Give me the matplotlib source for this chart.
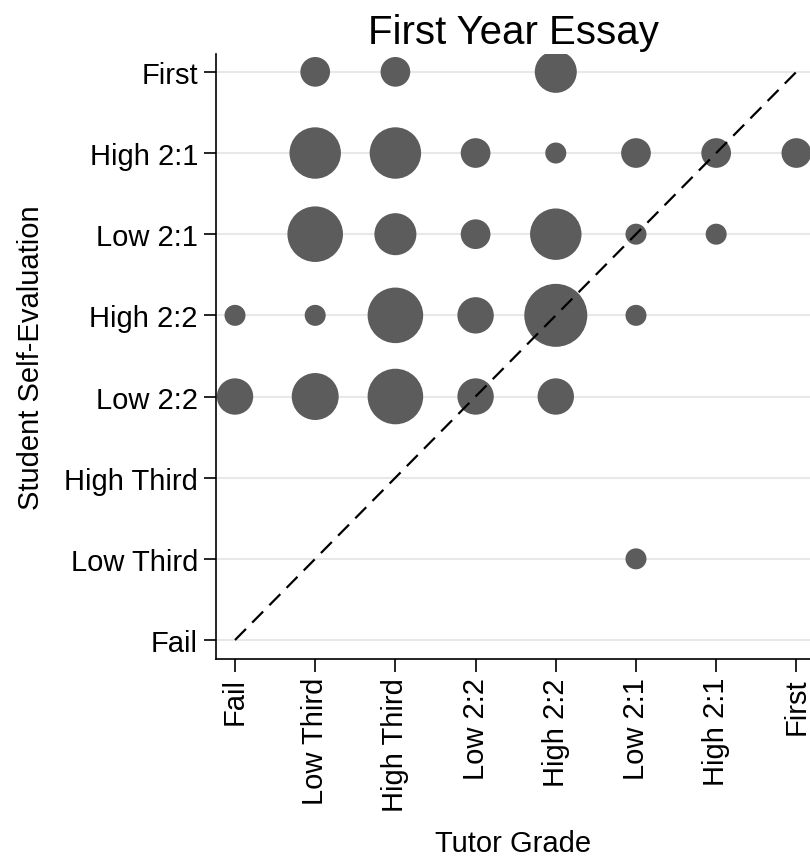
import numpy as np
import matplotlib.pyplot as plt

plt.rcParams['font.family'] = ['Liberation Sans', 'DejaVu Sans']

grades = ["Fail", "Low Third", "High Third", "Low 2:2", "High 2:2",
          "Low 2:1", "High 2:1", "First"]

# counts[self_eval][tutor_grade]
counts = np.array([
    # Fail LT  HT  L22 H22 L21 H21 First   <- tutor grade
    [0,   0,  0,  0,  0,  0,  0,  0],   # Fail
    [0,   0,  0,  0,  0,  1,  0,  0],   # Low Third
    [0,   0,  0,  0,  0,  0,  0,  0],   # High Third
    [3,   5,  7,  3,  3,  0,  0,  0],   # Low 2:2
    [1,   1,  7,  3,  9,  1,  0,  0],   # High 2:2
    [0,   7,  4,  2,  6,  1,  1,  0],   # Low 2:1
    [0,   6,  6,  2,  1,  2,  2,  2],   # High 2:1
    [0,   2,  2,  0,  4,  0,  0,  0],   # First
])

ys, xs = np.nonzero(counts)
n = counts[ys, xs]

fig = plt.figure(figsize=(8.1, 8.62), dpi=100)
ax = fig.add_axes([216/810, 1 - 660/862, 1 - 216/810, (660 - 55)/862])

# --- 横グリッド ---
for k in range(len(grades)):
    ax.axhline(k, color='#e8e8e8', lw=1.5, zorder=0)

# --- 対角線 ---
ax.plot([0, 7], [0, 7], color='black', ls=(0, (7, 4)), lw=1.6, zorder=3)

# --- バブル（面積 ∝ 件数） ---
base = (21 * 0.72) ** 2
ax.scatter(xs, ys, s=base * n, color='#5c5c5c', edgecolors='none', zorder=2)

ax.set_xlim(-0.237, 7.17)
ax.set_ylim(-0.234, 7.22)

ax.set_xticks(range(len(grades)))
ax.set_xticklabels(grades, rotation=90, fontsize=21)
ax.set_yticks(range(len(grades)))
ax.set_yticklabels(grades, fontsize=21)
ax.tick_params(direction='out', length=9, width=1.2, pad=4)

for s in ['top', 'right']:
    ax.spines[s].set_visible(False)
for s in ['left', 'bottom']:
    ax.spines[s].set_linewidth(1.2)

ax.set_xlabel("Tutor Grade", fontsize=21, labelpad=13)
ax.set_ylabel("Student Self-Evaluation", fontsize=21, labelpad=14)
ax.set_title("First Year Essay", fontsize=29, pad=8)

plt.savefig("out.png", dpi=100)
